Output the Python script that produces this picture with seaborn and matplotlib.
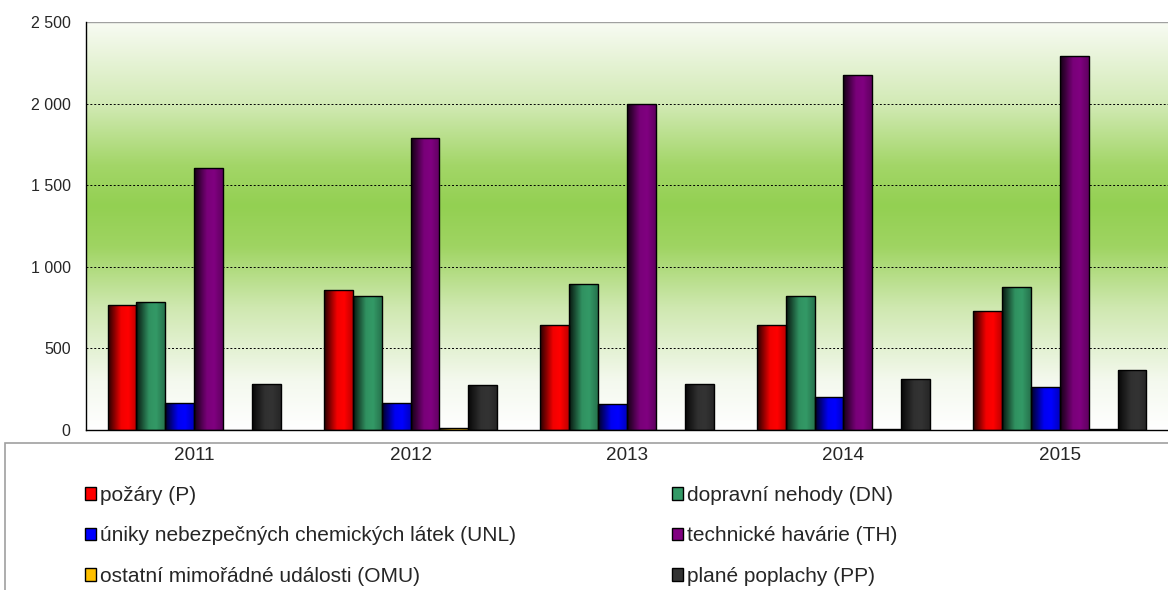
import numpy as np
import pandas as pd
import matplotlib
matplotlib.use("Agg")
import matplotlib.pyplot as plt
import seaborn as sns
from matplotlib.colors import LinearSegmentedColormap, to_rgb
from matplotlib.patches import Rectangle
from matplotlib.ticker import FuncFormatter, FixedLocator

# data
years = ["2011", "2012", "2013", "2014", "2015"]
kinds = ["požáry (P)", "dopravní nehody (DN)",
         "úniky nebezpečných chemických látek (UNL)", "technické havárie (TH)",
         "ostatní mimořádné události (OMU)", "plané poplachy (PP)"]
pozary = [766, 858, 643, 643, 729]
dopravni = [784, 821, 895, 821, 876]
uniky = [165, 165, 160, 202, 264]
technicke = [1605, 1789, 1998, 2175, 2292]
ostatni = [0, 12, 0, 5, 5]
plane = [282, 277, 282, 314, 367]
colors = ["#FF0000", "#339966", "#0000FF", "#800080", "#FFC000", "#333333"]

series = [pozary, dopravni, uniky, technicke, ostatni, plane]
df = pd.DataFrame([(y, k, s[i]) for k, s in zip(kinds, series) for i, y in enumerate(years)],
                  columns=["rok", "druh", "pocet"])

sns.set_style("white")
plt.rcParams['font.family'] = ['Liberation Sans', 'DejaVu Sans']

fig = plt.figure(figsize=(11.68, 5.9), dpi=100)

# legend box (behind everything)
fig.patches.append(Rectangle((5 / 1168, -0.05), 1.1, (590 - 443) / 590 + 0.05,
                             transform=fig.transFigure, facecolor="white",
                             edgecolor="#a0a0a0", linewidth=1.2, zorder=-5))

ax = fig.add_axes([86 / 1168, 1 - 430 / 590, 1 - 86 / 1168, 408 / 590])

sns.barplot(data=df, x="rok", y="pocet", hue="druh", hue_order=kinds, palette=colors,
            width=0.8, edgecolor="black", linewidth=1.0, legend=False, ax=ax, zorder=3)

ax.set_xlim(-0.5, 4.5)
ax.set_ylim(0, 2500)

# green vertical gradient background
bg = LinearSegmentedColormap.from_list("bg", [
    (0.0, "#ffffff"), (0.12, "#f4f9ee"), (0.3, "#cfe8b0"), (0.45, "#9fd462"),
    (0.55, "#93d052"), (0.65, "#a3d668"), (0.8, "#d2eab5"), (1.0, "#f8fbf3")])
grad = np.linspace(0, 1, 256).reshape(-1, 1)
ax.imshow(grad, cmap=bg, aspect="auto", origin="lower",
          extent=[-0.5, 4.5, 0, 2500], zorder=0)

# shaded bars: darker on the left edge
for cont, col in zip(ax.containers, colors):
    base = np.array(to_rgb(col))
    shade = LinearSegmentedColormap.from_list("s", [
        (0.0, base * 0.15), (0.45, base * 0.95), (0.7, base), (1.0, base * 0.75)])
    for bar in cont:
        h = bar.get_height()
        if h <= 0:
            continue
        x0, w = bar.get_x(), bar.get_width()
        im = ax.imshow(np.linspace(0, 1, 64).reshape(1, -1), cmap=shade, aspect="auto",
                       extent=[x0, x0 + w, 0, h], zorder=3.5)
        im.set_clip_path(bar)
        bar.set_zorder(4)
        bar.set_facecolor("none")

for v in [500, 1000, 1500, 2000]:
    ax.axhline(v, color="black", linestyle=(0, (2, 2)), linewidth=0.7, zorder=1)
ax.axhline(2500, color="#a0a0a0", linewidth=1, zorder=1)

ax.yaxis.set_major_locator(FixedLocator([0, 500, 1000, 1500, 2000, 2500]))
ax.yaxis.set_major_formatter(FuncFormatter(lambda v, p: f"{int(v):,}".replace(",", " ")))
ax.set_xticks(np.arange(5))
ax.set_xticklabels(years)
ax.set_xticks(np.arange(-0.5, 5, 1), minor=True)
ax.tick_params(axis="x", which="major", length=0, labelsize=13.6, pad=12)
ax.tick_params(axis="x", which="minor", length=5, direction="out", color="black")
ax.tick_params(axis="y", length=5, direction="out", color="black", labelsize=11.5, pad=6)
ax.set_xlabel("")
ax.set_ylabel("")
for s in ["top", "right"]:
    ax.spines[s].set_visible(False)
for s in ["left", "bottom"]:
    ax.spines[s].set_color("black")
    ax.spines[s].set_linewidth(1)
ax.spines["left"].set_zorder(5)
ax.spines["bottom"].set_zorder(5)

handles = [Rectangle((0, 0), 1, 1, facecolor=c, edgecolor="black", linewidth=1) for c in colors]
for idx, xpos in [([0, 2, 4], 85 / 1168), ([1, 3, 5], 672 / 1168)]:
    fig.legend([handles[i] for i in idx], [kinds[i] for i in idx],
               loc="upper left", bbox_to_anchor=(xpos, 1 - 486 / 590), frameon=False,
               fontsize=15, handlelength=0.53, handleheight=0.53, handletextpad=0.2,
               labelspacing=1.03, borderaxespad=0, borderpad=0)

fig.savefig("out.png", dpi=100)
